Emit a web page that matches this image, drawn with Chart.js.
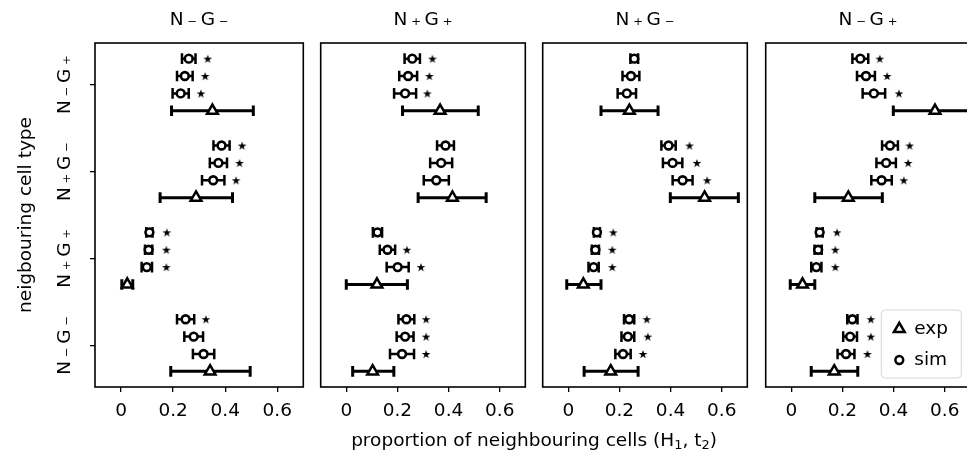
<!DOCTYPE html>
<html>
<head>
<meta charset="utf-8">
<script src="https://cdn.jsdelivr.net/npm/chart.js@4.4.0/dist/chart.umd.min.js"></script>
<style>
  html, body { margin: 0; padding: 0; background: #fff; }
  #fig { position: relative; width: 967px; height: 465px; overflow: hidden; background: #fff; font-family: 'DejaVu Sans', sans-serif; }
  #fig canvas { position: absolute; top: 0; }
  #xlabel { position: absolute; left: 134px; width: 800px; top: 429px; line-height: 22px; text-align: center; font-size: 18.5px; color: #000; white-space: nowrap; }
  #xlabel sub { font-size: 70%; line-height: 0; vertical-align: -0.25em; }
</style>
</head>
<body>
<div id="fig">
  <canvas id="p0" width="312" height="465" style="left:0px"></canvas>
  <canvas id="p1" width="222" height="465" style="left:312px"></canvas>
  <canvas id="p2" width="222" height="465" style="left:534px"></canvas>
  <canvas id="p3" width="222" height="465" style="left:757px"></canvas>
  <div id="xlabel">proportion of neighbouring cells (H<sub>1</sub>, t<sub>2</sub>)</div>
</div>
<script>
// cell types, bottom to top on the y axis
const categories = ['N\u2009₋\u2009G\u2009₋', 'N\u2009₊\u2009G\u2009₊', 'N\u2009₊\u2009G\u2009₋', 'N\u2009₋\u2009G\u2009₊'];
// panel order, left to right
const panelTitles = ['N\u2009₋\u2009G\u2009₋', 'N\u2009₊\u2009G\u2009₊', 'N\u2009₊\u2009G\u2009₋', 'N\u2009₋\u2009G\u2009₊'];
const xTicks = [0, 0.2, 0.4, 0.6];
const legendLabels = ['exp', 'sim'];

// per category (bottom to top) three simulation runs, drawn top to bottom
const simNmGm    = [[0.248, 0.279, 0.317], [0.109, 0.106, 0.099], [0.386, 0.374, 0.354], [0.260, 0.245, 0.229]];
const simErrNmGm = [[0.033, 0.036, 0.041], [0.012, 0.014, 0.020], [0.031, 0.033, 0.043], [0.026, 0.030, 0.031]];
const starNmGm   = [[0.326, null, null], [0.176, 0.174, 0.174], [0.465, 0.455, 0.442], [0.333, 0.323, 0.307]];
const expNmGm    = [0.342, 0.024, 0.288, 0.351];
const expLoNmGm  = [0.191, 0.003, 0.150, 0.194];
const expHiNmGm  = [0.496, 0.045, 0.428, 0.508];

const simNpGp    = [[0.235, 0.230, 0.218], [0.122, 0.161, 0.201], [0.388, 0.371, 0.352], [0.258, 0.242, 0.230]];
const simErrNpGp = [[0.031, 0.033, 0.047], [0.018, 0.030, 0.043], [0.033, 0.043, 0.049], [0.030, 0.035, 0.043]];
const starNpGp   = [[0.312, 0.312, 0.312], [null, 0.237, 0.292], [null, null, null], [0.337, 0.325, 0.317]];
const expNpGp    = [0.103, 0.120, 0.415, 0.367];
const expLoNpGp  = [0.025, 0.000, 0.281, 0.220];
const expHiNpGp  = [0.186, 0.239, 0.547, 0.516];

const simNpGm    = [[0.238, 0.233, 0.214], [0.112, 0.106, 0.099], [0.392, 0.408, 0.447], [0.258, 0.245, 0.229]];
const simErrNpGm = [[0.020, 0.025, 0.030], [0.012, 0.014, 0.020], [0.028, 0.038, 0.039], [0.015, 0.033, 0.036]];
const starNpGm   = [[0.307, 0.311, 0.292], [0.176, 0.172, 0.172], [0.474, 0.503, 0.543], [null, null, null]];
const expNpGm    = [0.166, 0.059, 0.533, 0.239];
const expLoNpGm  = [0.062, -0.006, 0.399, 0.128];
const expHiNpGm  = [0.273, 0.128, 0.665, 0.351];

const simNmGp    = [[0.239, 0.230, 0.214], [0.111, 0.105, 0.098], [0.386, 0.371, 0.353], [0.270, 0.292, 0.323]];
const simErrNmGp = [[0.020, 0.027, 0.033], [0.012, 0.014, 0.020], [0.031, 0.038, 0.040], [0.031, 0.035, 0.044]];
const starNmGp   = [[0.311, 0.311, 0.298], [0.179, 0.172, 0.172], [0.463, 0.457, 0.440], [0.346, 0.375, 0.421]];
const expNmGp    = [0.168, 0.044, 0.223, 0.562];
const expLoNmGp  = [0.078, -0.004, 0.092, 0.399];
const expHiNmGp  = [0.260, 0.092, 0.356, 0.725];

const panelSim    = [simNmGm, simNpGp, simNpGm, simNmGp];
const panelSimErr = [simErrNmGm, simErrNpGp, simErrNpGm, simErrNmGp];
const panelStar   = [starNmGm, starNpGp, starNpGm, starNmGp];
const panelExp    = [expNmGm, expNpGp, expNpGm, expNmGp];
const panelExpLo  = [expLoNmGm, expLoNpGp, expLoNpGm, expLoNmGp];
const panelExpHi  = [expHiNmGm, expHiNpGp, expHiNpGm, expHiNmGp];

const FONT = { family: "'DejaVu Sans', sans-serif", size: 18.5 };
const ROW_OFF = [0.3, 0.1, -0.1];
const EXP_OFF = -0.3;

Chart.defaults.color = '#000';
Chart.defaults.font.family = FONT.family;

function makeStar(r) {
    const s = Math.ceil(r * 2 + 2);
    const c = document.createElement('canvas');
    c.width = s; c.height = s;
    const g = c.getContext('2d');
    g.translate(s / 2, s / 2 + 0.5);
    g.beginPath();
    for (let i = 0; i < 10; i++) {
        const rr = i % 2 ? r * 0.382 : r;
        const a = -Math.PI / 2 + i * Math.PI / 5;
        g.lineTo(rr * Math.cos(a), rr * Math.sin(a));
    }
    g.closePath();
    g.fillStyle = '#000';
    g.fill();
    return c;
}
const starImg = makeStar(4.6);

// horizontal error bars with caps, drawn under the markers
const errorBars = {
    id: 'errorBars',
    beforeDatasetsDraw(chart) {
        const { ctx, chartArea: a, scales: { x, y } } = chart;
        ctx.save();
        ctx.beginPath();
        ctx.rect(a.left, a.top, a.right - a.left, a.bottom - a.top);
        ctx.clip();
        ctx.strokeStyle = '#000';
        chart.data.datasets.forEach(ds => {
            if (!ds.errorBars) return;
            ctx.lineWidth = ds.errorWidth;
            const cap = 5.3;
            ds.data.forEach(p => {
                const py = y.getPixelForValue(p.y);
                const x1 = x.getPixelForValue(p.xMin);
                const x2 = x.getPixelForValue(p.xMax);
                ctx.beginPath();
                ctx.moveTo(x1, py); ctx.lineTo(x2, py);
                ctx.moveTo(x1, py - cap); ctx.lineTo(x1, py + cap);
                ctx.moveTo(x2, py - cap); ctx.lineTo(x2, py + cap);
                ctx.stroke();
            });
        });
        ctx.restore();
    }
};

const frame = {
    id: 'frame',
    afterDatasetsDraw(chart) {
        const { ctx, chartArea: a } = chart;
        ctx.save();
        ctx.strokeStyle = '#000';
        ctx.lineWidth = 1.6;
        ctx.strokeRect(a.left, a.top, a.right - a.left, a.bottom - a.top);
        ctx.restore();
    }
};

const legendBox = {
    id: 'legendBox',
    afterDraw(chart) {
        const { ctx, chartArea: a } = chart;
        const w = 80, h = 68;
        const bx = a.right - 9 - w, by = a.bottom - 9 - h;
        ctx.save();
        ctx.beginPath();
        ctx.roundRect(bx, by, w, h, 4);
        ctx.fillStyle = 'rgba(255,255,255,0.8)';
        ctx.fill();
        ctx.strokeStyle = '#d6d6d6';
        ctx.lineWidth = 1;
        ctx.stroke();
        const styles = [{ pointStyle: 'triangle', radius: 6.2 }, { pointStyle: 'circle', radius: 3.9 }];
        legendLabels.forEach((label, i) => {
            const cy = by + 19 + i * 31;
            ctx.fillStyle = '#fff';
            ctx.strokeStyle = '#000';
            ctx.lineWidth = 2.5;
            Chart.helpers.drawPoint(ctx, { pointStyle: styles[i].pointStyle, radius: styles[i].radius, rotation: 0, borderWidth: 2.5 }, bx + 18, cy);
            ctx.fillStyle = '#000';
            ctx.font = FONT.size + 'px ' + FONT.family;
            ctx.textAlign = 'left';
            ctx.textBaseline = 'middle';
            ctx.fillText(label, bx + 33, cy);
        });
        ctx.restore();
    }
};

function buildPanel(k) {
    const sim = panelSim[k], err = panelSimErr[k], star = panelStar[k];
    const exp = panelExp[k], lo = panelExpLo[k], hi = panelExpHi[k];
    const simPts = [], starPts = [], expPts = [];
    for (let c = 0; c < categories.length; c++) {
        for (let r = 0; r < 3; r++) {
            simPts.push({ x: sim[c][r], y: c + ROW_OFF[r], xMin: sim[c][r] - err[c][r], xMax: sim[c][r] + err[c][r] });
            if (star[c][r] !== null) starPts.push({ x: star[c][r], y: c + ROW_OFF[r] });
        }
        expPts.push({ x: exp[c], y: c + EXP_OFF, xMin: lo[c], xMax: hi[c] });
    }

    const first = k === 0;
    const plugins = [errorBars, frame];
    if (k === 3) plugins.push(legendBox);

    new Chart(document.getElementById('p' + k), {
        type: 'scatter',
        data: {
            datasets: [
                {
                    label: 'stars',
                    data: starPts,
                    pointStyle: starImg,
                    pointRadius: 5
                },
                {
                    label: 'sim',
                    data: simPts,
                    errorBars: true,
                    errorWidth: 2.5,
                    pointStyle: 'circle',
                    pointRadius: 3.9,
                    borderWidth: 2.6,
                    borderColor: '#000',
                    backgroundColor: '#fff'
                },
                {
                    label: 'exp',
                    data: expPts,
                    errorBars: true,
                    errorWidth: 3,
                    pointStyle: 'triangle',
                    pointRadius: 6.2,
                    borderWidth: 2.5,
                    borderColor: '#000',
                    backgroundColor: '#fff'
                }
            ]
        },
        options: {
            responsive: false,
            animation: false,
            events: [],
            layout: { padding: { left: first ? 0 : 5, right: 5, top: 0, bottom: 0 } },
            plugins: {
                legend: { display: false },
                tooltip: { enabled: false },
                title: {
                    display: true,
                    fullSize: false,
                    text: panelTitles[k],
                    color: '#000',
                    font: { family: FONT.family, size: FONT.size, weight: 'normal' },
                    padding: { top: 9, bottom: 11.8 }
                }
            },
            scales: {
                x: {
                    type: 'linear',
                    min: -0.1,
                    max: 0.7,
                    afterBuildTicks: s => { s.ticks = xTicks.map(v => ({ value: v })); },
                    afterFit: s => { s.height = 78; },
                    ticks: {
                        callback: v => v === 0 ? '0' : v.toFixed(1),
                        font: FONT,
                        color: '#000',
                        padding: 8,
                        maxRotation: 0
                    },
                    grid: { drawOnChartArea: false, drawTicks: true, tickLength: 5, color: '#000', lineWidth: 1.3 },
                    border: { display: false }
                },
                y: {
                    type: 'linear',
                    min: -0.48,
                    max: 3.48,
                    display: first,
                    afterBuildTicks: s => { s.ticks = categories.map((c, i) => ({ value: i })); },
                    afterFit: s => { s.width = first ? 95 : 0; },
                    ticks: {
                        callback: v => categories[v],
                        font: FONT,
                        color: '#000',
                        minRotation: 90,
                        maxRotation: 90,
                        crossAlign: 'center',
                        padding: -5
                    },
                    grid: { drawOnChartArea: false, drawTicks: true, tickLength: 5, color: '#000', lineWidth: 1.3 },
                    border: { display: false },
                    title: {
                        display: true,
                        text: 'neigbouring cell type',
                        color: '#000',
                        font: FONT,
                        padding: { top: 15, bottom: 0 }
                    }
                }
            }
        },
        plugins: plugins
    });
}

for (let k = 0; k < 4; k++) buildPanel(k);
</script>
</body>
</html>
